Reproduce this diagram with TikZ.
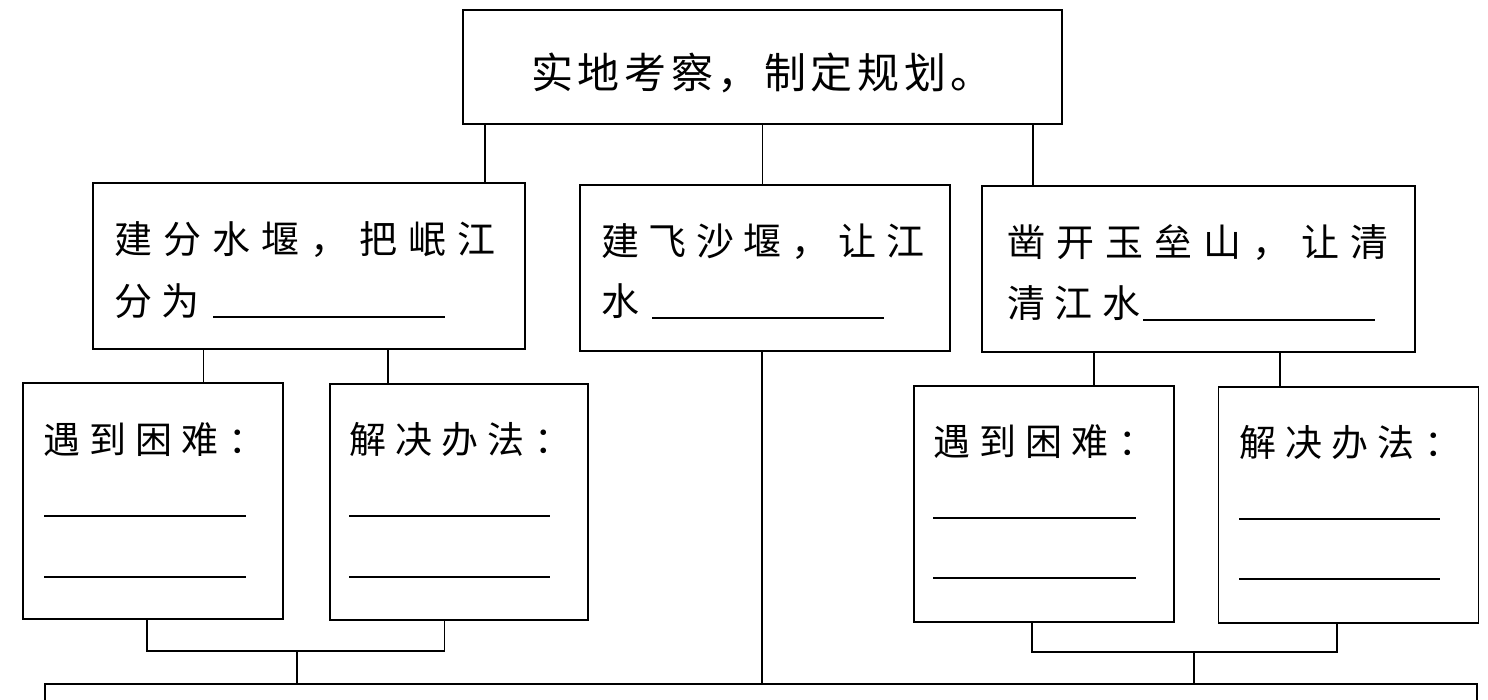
\documentclass[tikz,border=0pt]{standalone}
\usepackage{fontspec}
\newfontfamily\cjkbig{Noto Sans CJK SC}[LetterSpace=11]
\newfontfamily\cjk{Noto Sans CJK SC}[LetterSpace=25]
\newfontfamily\cjkwide{Noto Sans CJK SC}[LetterSpace=29]
\begin{document}
\begin{tikzpicture}[x=1pt,y=-1pt,
  box/.style={draw, line width=1.6pt, inner sep=0pt},
  conn/.style={line width=1.6pt},
  blank/.style={line width=2.2pt},
  ttl/.style={anchor=base west, inner sep=0pt, font=\cjkbig\fontsize{42}{44}\selectfont},
  lbl/.style={anchor=base west, inner sep=0pt, font=\cjk\fontsize{38}{40}\selectfont},
  lblw/.style={anchor=base west, inner sep=0pt, font=\cjkwide\fontsize{38}{40}\selectfont},
  sml/.style={anchor=base west, inner sep=0pt, font=\cjk\fontsize{37}{39}\selectfont}]
\useasboundingbox (0,0) rectangle (1488,699);
% boxes
\node[box, minimum width=599pt, minimum height=114pt] (top) at (762.5,67) {};
\node[box, minimum width=431.5pt, minimum height=166pt] (A) at (309,266) {};
\node[box, minimum width=370pt, minimum height=166pt] (B) at (765,268) {};
\node[box, minimum width=433pt, minimum height=166pt] (C) at (1198.5,269) {};
\node[box, minimum width=260.5pt, minimum height=236pt] (A1) at (153,501) {};
\node[box, minimum width=258.5pt, minimum height=236pt] (A2) at (459,502) {};
\node[box, minimum width=260pt, minimum height=236pt] (C1) at (1044,504) {};
\node[box, minimum width=260pt, minimum height=236pt] (C2) at (1348.5,505) {};
\node[box, minimum width=1432pt, minimum height=76pt] (bot) at (761,722) {};
% texts
\node[ttl] (t0) at (531,88) {实地考察，制定规划。};
\node[lblw] (ta1) at (114,253) {建分水堰，把岷江};
\node[lbl] (ta2) at (114,315) {分为};
\node[lbl] (tb1) at (601,255) {建飞沙堰，让江};
\node[lbl] (tb2) at (601,315) {水};
\node[lblw] (tc1) at (1007,256) {凿开玉垒山，让清};
\node[lbl] (tc2) at (1007,317) {清江水};
\node[sml] (ta1x) at (43,453) {遇到困难：};
\node[sml] (ta2x) at (349,453) {解决办法：};
\node[sml] (tc1x) at (933,455) {遇到困难：};
\node[sml] (tc2x) at (1239,456) {解决办法：};
% blanks
\draw[blank] (213,317) -- (445,317);
\draw[blank] (652,318) -- (884,318);
\draw[blank] (1143,320) -- (1375,320);
\draw[blank] (44,516) -- (246,516) (44,577) -- (246,577);
\draw[blank] (349,516) -- (550,516) (349,577) -- (550,577);
\draw[blank] (933,518) -- (1136,518) (933,578) -- (1136,578);
\draw[blank] (1239,519) -- (1440,519) (1239,579) -- (1440,579);
% connectors
\draw[conn] ([xshift=23pt]top.south west) -- ([xshift=23pt]top.south west |- A.north);
\draw[conn] (top.south) -- (top.south |- B.north);
\draw[conn] ([xshift=-30pt]top.south east) -- ([xshift=-30pt]top.south east |- C.north);
\draw[conn] ([xshift=111pt]A.south west) -- ([xshift=111pt]A.south west |- A1.north);
\draw[conn] ([xshift=295.5pt]A.south west) -- ([xshift=295.5pt]A.south west |- A2.north);
\draw[conn] ([xshift=113pt]C.south west) -- ([xshift=113pt]C.south west |- C1.north);
\draw[conn] ([xshift=298.5pt]C.south west) -- ([xshift=298.5pt]C.south west |- C2.north);
\draw[conn] ([xshift=-3pt]B.south) -- ([xshift=-3pt]B.south |- bot.north);
\coordinate (ja) at (297,651);
\coordinate (jc) at (1194,652);
\draw[conn] ([xshift=125pt]A1.south west) |- (ja) -| ([xshift=115.4pt]A2.south west);
\draw[conn] (ja) -- (ja |- bot.north);
\draw[conn] ([xshift=118.5pt]C1.south west) |- (jc) -| ([xshift=119.5pt]C2.south west);
\draw[conn] (jc) -- (jc |- bot.north);
\end{tikzpicture}
\end{document}
